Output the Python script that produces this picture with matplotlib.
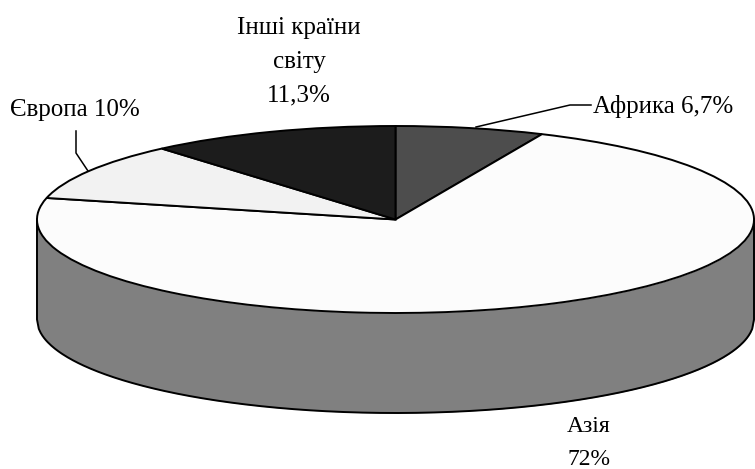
import numpy as np
import matplotlib
matplotlib.use("Agg")
import matplotlib.pyplot as plt

W, H = 755, 469

# clockwise from 12 o'clock
shares = [6.7, 72, 10, 11.3]
colors = ["#4d4d4d", "#fcfcfc", "#f2f2f2", "#1c1c1c"]
side_color = "#808080"

label_africa = "Африка 6,7%"
label_asia = "Азія\n72%"
label_europe = "Європа 10%"
label_other = "Інші країни\nсвіту\n11,3%"

# ellipse in pixels
cx, cy = 395.5, 219.5
rx, ry = 358.5, 93.5
depth = 100 / ry


def px(x, y):
    return (x - cx) / rx, (cy - y) / ry


plt.rcParams["font.family"] = ["Liberation Serif", "DejaVu Serif"]
fig = plt.figure(figsize=(W / 100, H / 100), dpi=100)
ax = fig.add_axes([0, 0, 1, 1])

# side wall first, top face over it
u = np.linspace(-1, 1, 400)
low = -np.sqrt(1 - u ** 2)
ax.fill_between(u, low, low - depth, color=side_color, lw=0, zorder=1)
ax.plot(np.r_[u[0], u, u[-1]], np.r_[0, low - depth, 0], c="k", lw=1.4, zorder=2)

wedges, _ = ax.pie(shares, colors=colors, startangle=90, counterclock=False,
                   radius=1, wedgeprops={"edgecolor": "k", "linewidth": 1.4, "zorder": 3})

ax.set_aspect("auto")
ax.set_xlim(px(0, 0)[0], px(W, 0)[0])
ax.set_ylim(px(0, H)[1], px(0, 0)[1])
ax.axis("off")

# leader lines
for pts in ([(476, 127), (570, 105), (591, 105)], [(76, 131), (76, 153), (88, 171)]):
    xs, ys = zip(*[px(*p) for p in pts])
    ax.plot(xs, ys, c="k", lw=1.1, zorder=4)

size = 18
ax.text(*px(299, 62), label_other, ha="center", va="center", fontsize=size, linespacing=1.68)
ax.text(*px(75, 110), label_europe, ha="center", va="center", fontsize=size)
ax.text(*px(663, 107), label_africa, ha="center", va="center", fontsize=size)
# narrower in the reference, and it sits right on the bottom edge
ax.text(*px(589, 443), label_asia, ha="center", va="center", fontsize=17, linespacing=1.77)

fig.savefig("out.png", dpi=100)
